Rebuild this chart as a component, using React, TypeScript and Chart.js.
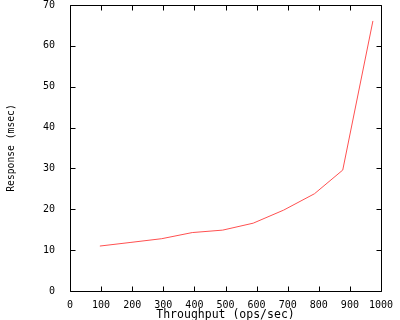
import React, { useEffect, useRef } from "react";
import { Chart, registerables } from "chart.js";

Chart.register(...registerables);

const throughput = [96, 196, 295, 393, 491, 589, 687, 786, 877, 974];
const response = [11.0, 11.9, 12.8, 14.3, 14.9, 16.6, 19.8, 23.8, 29.6, 66.1];
const xTitle = "Throughput (ops/sec)";
const yTitle = "Response (msec)";

const FAMILY = "'DejaVu Sans Mono', monospace";
const FONT = { family: FAMILY, size: 10 };

const framePlugin = {
  id: "frameTicks",
  afterDraw(chart: any) {
    const { ctx, chartArea } = chart;
    const { left, right, top, bottom } = chartArea;
    const xs = chart.scales.x;
    const ys = chart.scales.y;
    const L = Math.round(left) + 0.5;
    const R = Math.round(right) + 0.5;
    const T = Math.round(top) + 0.5;
    const B = Math.round(bottom) + 0.5;
    ctx.save();
    ctx.strokeStyle = "#000";
    ctx.lineWidth = 1;
    ctx.beginPath();
    ctx.rect(L, T, R - L, B - T);
    const tl = 5;
    xs.ticks.forEach((t: any) => {
      const p = Math.round(xs.getPixelForValue(t.value)) + 0.5;
      ctx.moveTo(p, B);
      ctx.lineTo(p, B - tl);
      ctx.moveTo(p, T);
      ctx.lineTo(p, T + tl);
    });
    ys.ticks.forEach((t: any) => {
      const p = Math.round(ys.getPixelForValue(t.value)) + 0.5;
      ctx.moveTo(L, p);
      ctx.lineTo(L + tl, p);
      ctx.moveTo(R, p);
      ctx.lineTo(R - tl, p);
    });
    ctx.stroke();
    ctx.restore();
  },
};

export default function App() {
  const ref = useRef<HTMLCanvasElement>(null);
  useEffect(() => {
    if (!ref.current) return;
    const chart = new Chart(ref.current, {
      type: "scatter",
      data: {
        datasets: [
          {
            data: throughput.map((x, i) => ({ x, y: response[i] })),
            showLine: true,
            borderColor: "#ff5050",
            borderWidth: 1,
            pointRadius: 0,
            fill: false,
          },
        ],
      },
      options: {
        animation: false,
        responsive: false,
        layout: { padding: { top: 5, right: 19, left: 0, bottom: 0 } },
        plugins: { legend: { display: false }, tooltip: { enabled: false } },
        scales: {
          x: {
            type: "linear",
            min: 0,
            max: 1000,
            ticks: {
              stepSize: 100,
              color: "#000",
              font: FONT,
              padding: 0,
              maxRotation: 0,
              autoSkip: false,
              callback: (v: any) => String(v),
            },
            grid: { display: false },
            border: { display: false },
            title: {
              display: true,
              text: xTitle,
              color: "#000",
              font: { family: FAMILY, size: 11.5 },
              padding: { top: 0, bottom: -2 },
            },
            afterFit: (s: any) => {
              s.height = 29;
              s.paddingLeft = 0;
              s.paddingRight = 0;
            },
          },
          y: {
            type: "linear",
            min: 0,
            max: 70,
            ticks: { stepSize: 10, color: "#000", font: FONT, padding: 7, callback: (v: any) => String(v) },
            grid: { display: false },
            border: { display: false },
            title: {
              display: true,
              text: yTitle,
              color: "#000",
              font: { family: FAMILY, size: 9.7 },
              padding: { top: 6, bottom: 0 },
            },
            afterFit: (s: any) => {
              s.width = 70;
              s.paddingTop = 0;
              s.paddingBottom = 0;
            },
          },
        },
      },
      plugins: [framePlugin],
    });
    return () => chart.destroy();
  }, []);
  return (
    <div style={{ position: "fixed", left: 0, top: 0, width: 400, height: 320, background: "#fff" }}>
      <canvas ref={ref} width={400} height={320} />
    </div>
  );
}
